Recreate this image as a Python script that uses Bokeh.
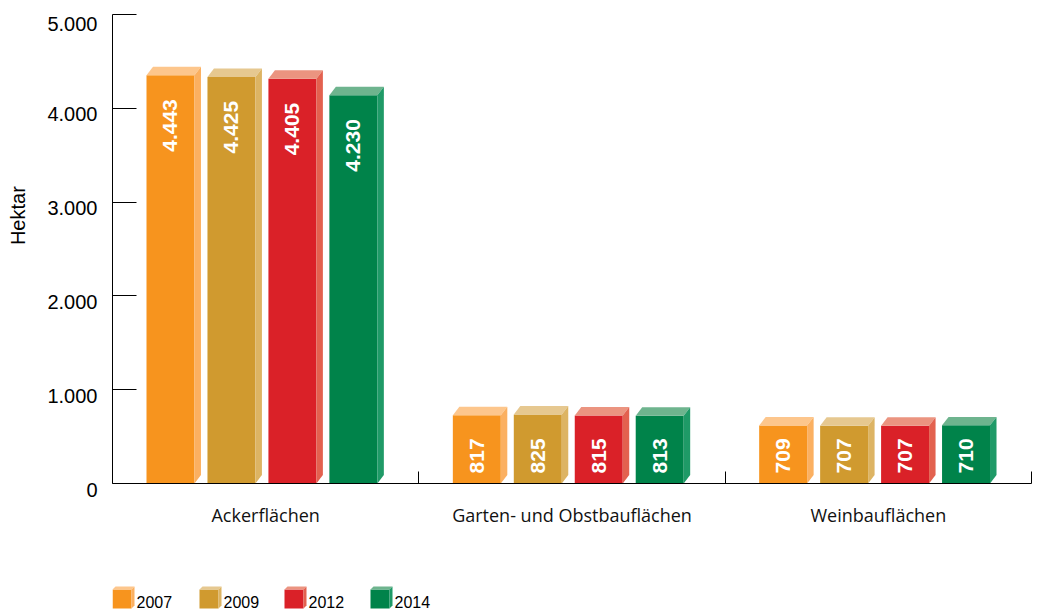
import math
from bokeh.plotting import figure
from bokeh.models import Range1d, FixedTicker
from bokeh.layouts import column
from bokeh.core.properties import value
from bokeh.embed import file_html
from bokeh.resources import INLINE

categories = ["Ackerflächen", "Garten- und Obstbauflächen", "Weinbauflächen"]
years = ["2007", "2009", "2012", "2014"]
v2007 = [4443, 817, 709]
v2009 = [4425, 825, 707]
v2012 = [4405, 815, 707]
v2014 = [4230, 813, 710]
series = [v2007, v2009, v2012, v2014]
y_ticks = [0, 1000, 2000, 3000, 4000, 5000]
y_tick_labels = ["0", "1.000", "2.000", "3.000", "4.000", "5.000"]

front_colors = ["#F7941E", "#D09A2F", "#DA2128", "#00834A"]
top_colors = ["#FDC68C", "#E6C890", "#EB9480", "#6EB48E"]
side_colors = ["#FBB061", "#DDB463", "#E3614F", "#1F9A67"]

FONT = "Liberation Sans"
CAT_FONT = "Open Sans"

p = figure(width=1037, height=570, x_range=Range1d(0, 3), y_range=Range1d(0, 5000),
           output_backend="svg", toolbar_location=None,
           min_border_left=112, min_border_right=6, min_border_top=14, min_border_bottom=87)
p.outline_line_color = None
p.xgrid.visible = False
p.ygrid.visible = False

off0, pitch, bw, dx, d = 0.111, 0.199, 0.1566, 0.0212, 90.0
lab_top_gap = 256     # label end sits ~24px below the front top
lab_floor = 107       # short bars: label starts ~10px above the baseline
short_limit = 2000

for j, vals in enumerate(series):
    x0 = [i + off0 + pitch * j for i in range(len(categories))]
    x1 = [a + bw for a in x0]
    p.quad(left=x0, right=x1, bottom=0, top=[v - d for v in vals],
           fill_color=front_colors[j], line_color=None)
    p.patches(xs=[[a, a + dx, b + dx, b] for a, b in zip(x0, x1)],
              ys=[[v - d, v, v, v - d] for v in vals],
              fill_color=top_colors[j], line_color=None)
    p.patches(xs=[[b, b + dx, b + dx, b] for b in x1],
              ys=[[v - d, v, d, 0] for v in vals],
              fill_color=side_colors[j], line_color=None)
    labels = [f"{v:,}".replace(",", ".") for v in vals]
    xc = [(a + b) / 2 for a, b in zip(x0, x1)]
    tall = [k for k, v in enumerate(vals) if v >= short_limit]
    short = [k for k, v in enumerate(vals) if v < short_limit]
    common = dict(angle=math.pi / 2, text_baseline="middle", text_color="white",
                  text_font=value(FONT), text_font_style="bold", text_font_size="21px")
    if tall:
        p.text(x=[xc[k] for k in tall], y=[vals[k] - d - lab_top_gap for k in tall],
               text=[labels[k] for k in tall], text_align="right", **common)
    if short:
        p.text(x=[xc[k] for k in short], y=[lab_floor for k in short],
               text=[labels[k] for k in short], text_align="left", **common)

# y axis
ya = p.yaxis[0]
ya.ticker = FixedTicker(ticks=y_ticks)
ya.major_label_overrides = {t: "\n" + l for t, l in zip(y_ticks, y_tick_labels)}
ya.major_label_text_line_height = 0.55
ya.major_tick_in = 24
ya.major_tick_out = 0
ya.minor_tick_in = 0
ya.minor_tick_out = 0
ya.major_label_standoff = 15
ya.major_label_text_font = FONT
ya.major_label_text_font_size = "20px"
ya.major_label_text_color = "black"
ya.axis_line_color = "black"
ya.major_tick_line_color = "black"
ya.axis_label = "\u00a0" * 12 + "Hektar"
ya.axis_label_text_font = FONT
ya.axis_label_text_font_size = "20px"
ya.axis_label_text_font_style = "normal"
ya.axis_label_text_color = "black"
ya.axis_label_standoff = 15

# x axis
xa = p.xaxis[0]
xa.ticker = FixedTicker(ticks=[0.5, 1.5, 2.5], minor_ticks=[1, 2, 3])
xa.major_label_overrides = {0.5: categories[0], 1.5: categories[1], 2.5: categories[2]}
xa.major_tick_in = 0
xa.major_tick_out = 0
xa.minor_tick_in = 12
xa.minor_tick_out = 0
xa.minor_tick_line_color = "black"
xa.major_label_standoff = 19
xa.major_label_text_font = CAT_FONT
xa.major_label_text_font_size = "18px"
xa.major_label_text_color = "#111111"
xa.axis_line_color = "black"

# legend (its frame is aligned with the main frame: x 112..1031 in page pixels)
lg = figure(width=1037, height=39, x_range=Range1d(112, 1031), y_range=Range1d(39, 0),
            output_backend="svg", toolbar_location=None, min_border=0)
lg.axis.visible = False
lg.xgrid.visible = False
lg.ygrid.visible = False
lg.outline_line_color = None
leg_x = [112, 199, 284, 370]
for j, yr in enumerate(years):
    x = leg_x[j]
    lg.quad(left=[x], right=[x + 19], top=[19], bottom=[38], fill_color=front_colors[j], line_color=None)
    lg.patches(xs=[[x, x + 3, x + 22, x + 19]], ys=[[19, 16, 16, 19]], fill_color=top_colors[j], line_color=None)
    lg.patches(xs=[[x + 19, x + 22, x + 22, x + 19]], ys=[[19, 16, 35, 38]], fill_color=side_colors[j], line_color=None)
    lg.text(x=[x + 24], y=[31], text=[yr], text_align="left", text_baseline="middle",
            text_font=value(FONT), text_font_size="16px", text_color="black")

layout = column(p, lg, spacing=0)
open("out.html", "w").write(file_html(layout, INLINE))
